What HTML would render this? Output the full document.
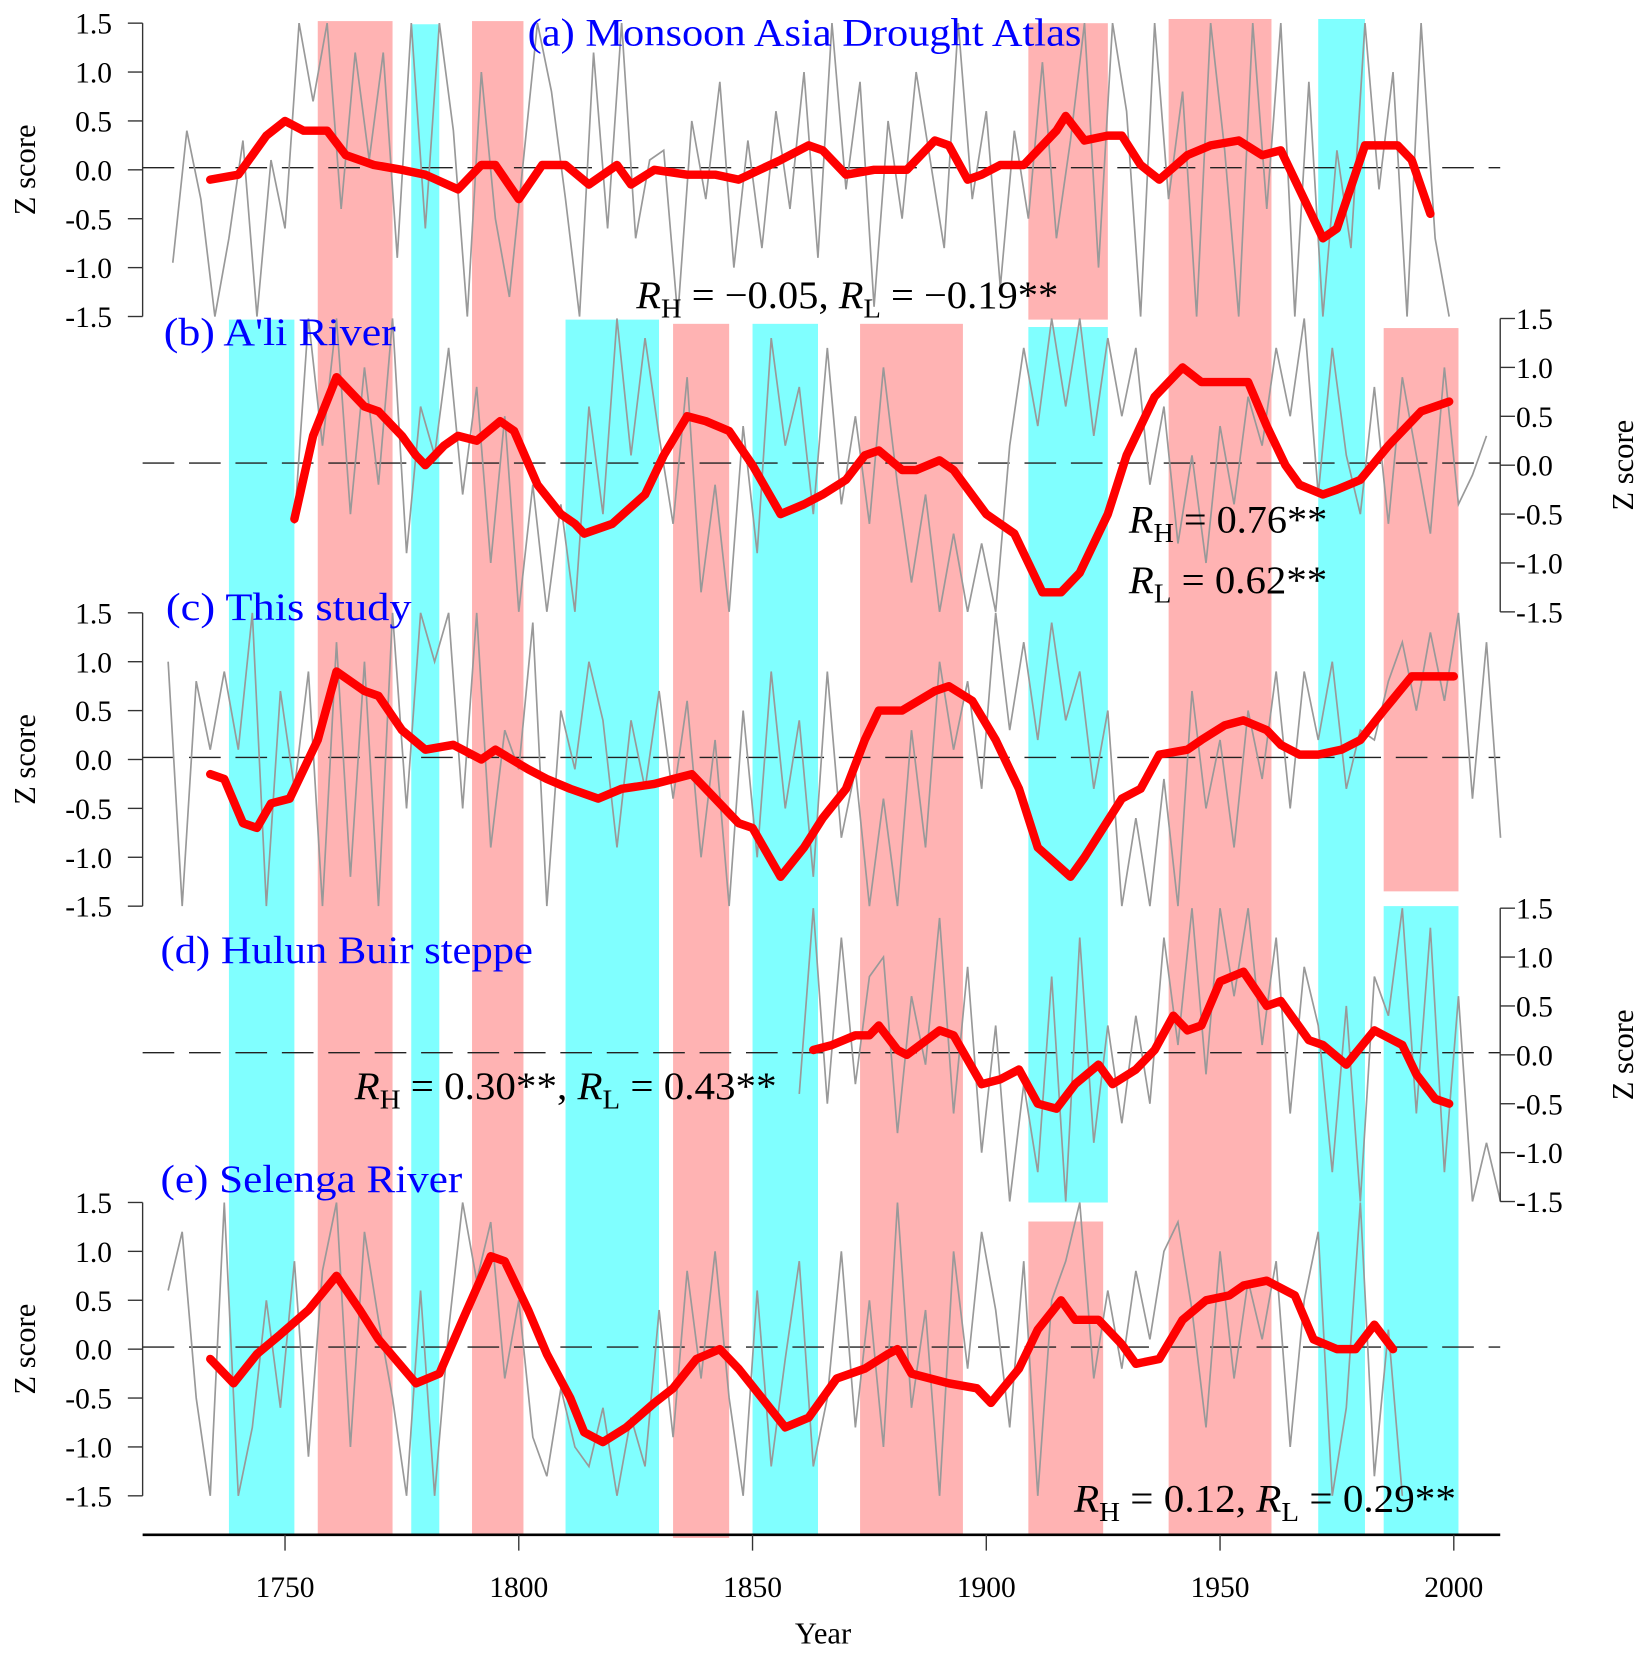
<!DOCTYPE html>
<html><head><meta charset="utf-8"><style>
html,body{margin:0;padding:0;background:#fff;}
svg{display:block;}
text{font-family:"Liberation Serif",serif;}
</style></head><body>
<svg id="chart" width="1646" height="1654" viewBox="0 0 1560 1568" xmlns="http://www.w3.org/2000/svg" font-family="Liberation Serif, serif">
<g id="bands"></g>
<g id="panels"></g>
<g id="texts"></g>
</svg>
<script>
// ---- data ----
const xTickYears = [1750, 1800, 1850, 1900, 1950, 2000];
const yTickLabels = ["1.5","1.0","0.5","0.0","-0.5","-1.0","-1.5"];
const yTickValues = [1.5,1.0,0.5,0.0,-0.5,-1.0,-1.5];
const pinkBandStart = [1757, 1790, 1833, 1873, 1909, 1939, 1985, 1909];
const pinkBandEnd   = [1773, 1801, 1845, 1895, 1926, 1961, 2001, 1925];
const cyanBandStart = [1738, 1777, 1810, 1850, 1909, 1971, 1985];
const cyanBandEnd   = [1752, 1783, 1830, 1864, 1926, 1981, 2001];

const redAYears = [1734,1740,1746,1750,1754,1759,1763,1769,1775,1780,1787,1792,1795,1800,1805,1810,1815,1821,1824,1829,1836,1842,1847,1856,1862,1865,1870,1876,1883,1889,1892,1896,1899,1903,1908,1915,1917,1921,1926,1929,1933,1937,1943,1948,1954,1959,1963,1969,1972,1975,1981,1984,1988,1991,1995];
const redAVals  = [-0.1,-0.05,0.35,0.5,0.4,0.4,0.15,0.05,0,-0.05,-0.2,0.05,0.05,-0.3,0.05,0.05,-0.15,0.05,-0.15,0,-0.05,-0.05,-0.1,0.1,0.25,0.2,-0.05,0,0,0.3,0.25,-0.1,-0.05,0.05,0.05,0.4,0.55,0.3,0.35,0.35,0.05,-0.1,0.15,0.25,0.3,0.15,0.2,-0.4,-0.7,-0.6,0.25,0.25,0.25,0.1,-0.45];
const redBYears = [1752,1756,1761,1767,1770,1775,1778,1780,1784,1787,1791,1796,1799,1804,1809,1812,1814,1820,1827,1831,1836,1840,1845,1850,1856,1861,1865,1870,1874,1877,1882,1885,1890,1893,1900,1906,1912,1916,1920,1926,1930,1936,1942,1946,1951,1956,1960,1964,1967,1972,1975,1980,1986,1993,1999];
const redBVals  = [-0.55,0.3,0.9,0.6,0.55,0.3,0.1,0,0.2,0.3,0.25,0.45,0.35,-0.2,-0.5,-0.6,-0.7,-0.6,-0.3,0.1,0.5,0.45,0.35,0,-0.5,-0.4,-0.3,-0.15,0.1,0.15,-0.05,-0.05,0.05,-0.05,-0.5,-0.7,-1.3,-1.3,-1.1,-0.5,0.1,0.7,1.0,0.85,0.85,0.85,0.4,0,-0.2,-0.3,-0.25,-0.15,0.2,0.55,0.65];
const redCYears = [1734,1737,1741,1744,1747,1751,1757,1761,1767,1770,1775,1780,1786,1792,1795,1802,1806,1811,1817,1822,1829,1833,1837,1841,1847,1850,1856,1861,1865,1870,1874,1877,1882,1889,1892,1897,1902,1907,1911,1918,1921,1925,1929,1933,1937,1943,1946,1951,1955,1960,1963,1967,1971,1976,1980,1985,1991,2000];
const redCVals  = [-0.15,-0.2,-0.65,-0.7,-0.45,-0.4,0.2,0.9,0.7,0.65,0.3,0.1,0.15,0,0.1,-0.1,-0.2,-0.3,-0.4,-0.3,-0.25,-0.2,-0.15,-0.35,-0.65,-0.7,-1.2,-0.9,-0.6,-0.3,0.2,0.5,0.5,0.7,0.75,0.6,0.2,-0.3,-0.9,-1.2,-1.0,-0.7,-0.4,-0.3,0.05,0.1,0.2,0.35,0.4,0.3,0.15,0.05,0.05,0.1,0.2,0.5,0.85,0.85];
const redDYears = [1863,1867,1872,1875,1877,1881,1883,1890,1893,1899,1903,1907,1911,1915,1919,1924,1927,1932,1936,1940,1943,1946,1950,1955,1960,1963,1969,1972,1977,1983,1987,1989,1992,1996,1999];
const redDVals  = [0.05,0.1,0.2,0.2,0.3,0.05,0,0.25,0.2,-0.3,-0.25,-0.15,-0.5,-0.55,-0.3,-0.1,-0.3,-0.15,0.05,0.4,0.25,0.3,0.75,0.85,0.5,0.55,0.15,0.1,-0.1,0.25,0.15,0.1,-0.2,-0.45,-0.5];
const redEYears = [1734,1739,1744,1749,1755,1761,1766,1770,1778,1783,1788,1794,1797,1802,1806,1811,1814,1818,1823,1829,1833,1838,1843,1847,1852,1857,1862,1868,1874,1879,1881,1884,1892,1898,1901,1907,1911,1916,1919,1924,1929,1932,1937,1942,1947,1952,1955,1960,1966,1970,1975,1979,1983,1987];
const redEVals  = [-0.1,-0.35,-0.05,0.15,0.4,0.75,0.4,0.1,-0.35,-0.25,0.3,0.95,0.9,0.4,-0.05,-0.5,-0.85,-0.95,-0.8,-0.55,-0.4,-0.1,0,-0.2,-0.5,-0.8,-0.7,-0.3,-0.2,-0.05,0,-0.25,-0.35,-0.4,-0.55,-0.2,0.2,0.5,0.3,0.3,0.05,-0.15,-0.1,0.3,0.5,0.55,0.65,0.7,0.55,0.1,0,0,0.25,0];

const grayAStart = 1726;
const grayAVals = [-0.95,0.4,-0.3,-1.5,-0.7,0.3,-1.5,0.1,-0.6,1.5,0.7,1.5,-0.4,1.2,0.1,1.2,-0.9,1.5,-0.6,1.5,0.4,-1.5,1.0,-0.5,-1.3,0.1,1.5,0.8,-0.3,-1.5,1.2,-0.6,1.5,-0.7,0.1,0.2,-1.5,0.5,-0.3,0.9,-1.0,0.3,-0.8,0.6,-0.4,1.0,-0.9,1.5,-0.2,0.9,-1.4,0.5,-0.5,1.0,0.1,-0.8,1.5,-0.3,0.6,-1.2,0.4,-0.5,1.1,-0.7,0.3,1.5,-1.0,1.5,0.6,-1.5,1.5,-0.3,0.8,-1.5,1.5,0.2,-1.5,1.5,-0.4,1.5,-1.5,0.9,-1.5,0.2,-0.8,1.5,-0.2,1.0,-1.5,1.5,-0.7,-1.5];
const grayBStart = 1752;
const grayBVals = [-0.6,1.5,0.2,1.5,-0.5,1.0,-0.2,1.5,-0.9,0.6,0.1,1.2,-0.3,0.8,-1.0,0.5,-1.5,-0.2,-1.5,-0.4,-1.5,0.6,-0.5,1.5,0.1,1.3,0.3,-0.6,0.9,-1.3,-0.2,-1.5,0.4,-0.9,1.3,0.2,0.8,-0.5,1.2,-0.4,0.5,-0.6,1.0,-0.2,-1.2,-0.3,-1.5,-0.7,-1.5,-0.8,-1.5,0.2,1.2,0.4,1.5,0.6,1.5,0.3,1.3,0.5,1.2,-0.2,0.6,-0.8,0.1,-1.0,0.4,-0.4,0.7,0.2,1.2,0.5,1.5,-0.3,1.2,0.1,-0.5,0.8,-0.6,0.9,0.1,-0.7,1.0,-0.4,-0.1,0.3];
const grayCStart = 1725;
const grayCVals = [1.0,-1.5,0.8,0.1,0.9,0.1,1.5,-1.5,0.7,-0.3,0.9,-1.5,1.2,-1.2,1.0,-1.5,1.5,-0.5,1.5,1.0,1.5,-0.5,1.5,-0.9,0.3,-0.1,1.4,-1.5,0.5,-0.1,1.0,0.4,-0.9,0.4,-0.3,0.7,-0.4,0.6,-1.0,0.2,-1.5,0.5,-1.0,0.9,-0.5,0.4,-1.2,0.9,-0.8,-0.1,-1.5,-0.4,-1.5,0.3,-0.9,1.0,0.1,0.8,-0.3,1.5,0.3,1.2,0.2,1.4,0.4,0.9,-0.3,0.5,-1.5,-0.6,-1.5,-0.2,-1.5,0.7,-0.5,0.2,-0.9,0.5,-0.2,0.9,-0.5,0.9,0.2,1.0,-0.3,0.3,0.2,0.8,1.2,0.5,1.3,0.6,1.5,-0.4,1.2,-0.8];
const grayDStart = 1860;
const grayDVals = [-0.4,1.5,-0.5,1.2,-0.3,0.8,1.0,-0.8,0.6,-0.1,1.4,-0.6,0.9,-1.0,0.3,-1.5,-0.3,-1.2,0.8,-1.5,1.2,-0.9,0.3,-0.7,0.4,-0.5,1.2,0.1,1.5,-0.2,1.5,0.6,1.5,0.1,1.2,-0.6,0.9,0.3,-1.2,0.5,-1.5,0.8,0.4,1.5,-0.6,1.3,-1.2,0.6,-1.5,-0.9,-1.5];
const grayEStart = 1725;
const grayEVals = [0.6,1.2,-0.5,-1.5,1.5,-1.5,-0.8,0.5,-0.6,0.9,-1.1,0.8,1.5,-1.0,1.2,0.3,-0.5,-1.5,0.6,-1.5,0.2,1.5,0.7,1.3,-0.3,0.5,-0.9,-1.3,-0.4,-1.0,-1.2,-0.6,-1.5,-0.7,-1.2,0.4,-0.9,0.8,-0.3,1.0,-0.5,-1.5,0.6,-1.2,-0.1,0.9,-1.2,-0.5,1.0,-0.8,0.5,-1.0,1.5,-0.6,0.4,-1.5,1.0,-0.2,1.2,0.4,-0.8,0.9,-1.5,0.5,0.9,1.5,-0.3,0.6,-0.2,0.8,0.1,1.0,1.3,0.4,-0.8,1.0,-0.3,0.7,0.1,0.9,-1.0,0.5,1.2,-1.5,-0.6,1.5,-1.3,0.2,-1.5];

// ---- helpers ----
const NS = "http://www.w3.org/2000/svg";
function mk(tag, attrs, parent){ const e=document.createElementNS(NS,tag); for(const k in attrs) e.setAttribute(k,attrs[k]); parent.appendChild(e); return e; }
function xScale(yr){ return 270 + (yr-1750)*4.432; }
const panels = [
  {id:"a", zero:161, side:"left"},
  {id:"b", zero:441, side:"right"},
  {id:"c", zero:720, side:"left"},
  {id:"d", zero:1000, side:"right"},
  {id:"e", zero:1279, side:"left"}
];
const unit = 92.7;
function yScale(p, v){ return p.zero - v*unit; }
const SERIF = "Liberation Serif, serif";

const bandsG = document.getElementById('bands');
const pinkTop = [20, 20, 307, 307, 22, 18, 311, 1158];
const pinkBot = [1455,1455,1458,1455,303,1455,845,1455];
const cyanTop = [303, 23, 303, 307, 310, 18, 859];
const cyanBot = [1455,1455,1455,1455,1140,1455,1455];
for(let i=0;i<pinkBandStart.length;i++){
  const r = mk('rect',{x:xScale(pinkBandStart[i]),y:pinkTop[i],width:xScale(pinkBandEnd[i])-xScale(pinkBandStart[i]),height:pinkBot[i]-pinkTop[i],fill:'#ffb3b3'},bandsG);
  
  
}
for(let i=0;i<cyanBandStart.length;i++){
  const r = mk('rect',{x:xScale(cyanBandStart[i]),y:cyanTop[i],width:xScale(cyanBandEnd[i])-xScale(cyanBandStart[i]),height:cyanBot[i]-cyanTop[i],fill:'#80ffff'},bandsG);
  
  
}

const panelsG = document.getElementById('panels');
const grays = {a:[grayAStart,grayAVals],b:[grayBStart,grayBVals],c:[grayCStart,grayCVals],d:[grayDStart,grayDVals],e:[grayEStart,grayEVals]};
const reds = {a:[redAYears,redAVals],b:[redBYears,redBVals],c:[redCYears,redCVals],d:[redDYears,redDVals],e:[redEYears,redEVals]};
panels.forEach(p=>{
  const g = mk('g',{},panelsG);
  
  
  const z = mk('line',{x1:135,x2:1422,y1:p.zero-2,y2:p.zero-2,stroke:'#222','stroke-width':1.3,'stroke-dasharray':'30 14'},g);
  
  
  const [gs, gv] = grays[p.id];
  const pts = gv.map((v,i)=>xScale(gs+i*3).toFixed(1)+','+yScale(p,Math.max(-1.5,Math.min(1.5,v))).toFixed(1)).join(' ');
  const gl = mk('polyline',{points:pts,fill:'none',stroke:'#999','stroke-width':1.6},g);
  
  
  const [ry, rv] = reds[p.id];
  const rpts = rv.map((v,i)=>xScale(ry[i]).toFixed(1)+','+yScale(p,v).toFixed(1)).join(' ');
  const rl = mk('polyline',{points:rpts,fill:'none',stroke:'#ff0000','stroke-width':8,'stroke-linejoin':'round','stroke-linecap':'round'},g);
  
  
  const ax = p.side==='left'?135:1422;
  const axis = mk('g',{},g);
  
  
  mk('line',{x1:ax,x2:ax,y1:yScale(p,1.5),y2:yScale(p,-1.5),stroke:'#333','stroke-width':1.3},axis);
  yTickValues.forEach((v,i)=>{
    const y=yScale(p,v);
    const dir = p.side==='left'?-1:1;
    mk('line',{x1:ax,x2:ax+dir*14,y1:y,y2:y,stroke:'#333','stroke-width':1.3},axis);
    const t = mk('text',{x:p.side==='left'?106:1437,y:y+10,'font-size':28,'font-family':SERIF,'text-anchor':p.side==='left'?'end':'start',fill:'#000'},axis);
    t.textContent = yTickLabels[i];
    
    
  });
  const tx = p.side==='left'?33:1548;
  const yt = mk('text',{x:tx,y:p.zero,'font-size':29,'font-family':SERIF,'text-anchor':'middle',transform:'rotate(-90 '+tx+' '+p.zero+')',fill:'#000'},axis);
  yt.textContent='Z score';
  
  
});

const xg = mk('g',{},panelsG);


mk('line',{x1:135,x2:1422,y1:1455,y2:1455,stroke:'#000','stroke-width':2.5},xg);
xTickYears.forEach(yr=>{
  const x=xScale(yr);
  mk('line',{x1:x,x2:x,y1:1455,y2:1470,stroke:'#333','stroke-width':1.3},xg);
  const t=mk('text',{x:x,y:1514,'font-size':28,'font-family':SERIF,'text-anchor':'middle'},xg);
  t.textContent=String(yr);
  
  
});
const xt=mk('text',{x:780,y:1558,'font-size':29,'font-family':SERIF,'text-anchor':'middle'},xg);
xt.textContent='Year';


</script>
<svg style="position:absolute;left:0;top:0" width="1646" height="1654" viewBox="0 0 1560 1568">
<g font-family="Liberation Serif, serif" font-size="37" fill="#0000ff">
<text x="500" y="43" textLength="525" lengthAdjust="spacingAndGlyphs">(a)  Monsoon Asia Drought Atlas</text>
<text x="155" y="327" textLength="220" lengthAdjust="spacingAndGlyphs">(b)  A'li River</text>
<text x="157" y="588" textLength="233" lengthAdjust="spacingAndGlyphs">(c)  This  study</text>
<text x="152" y="913" textLength="353" lengthAdjust="spacingAndGlyphs">(d)  Hulun Buir steppe</text>
<text x="152" y="1130" textLength="286" lengthAdjust="spacingAndGlyphs">(e)  Selenga River</text>
</g>
<g font-family="Liberation Serif, serif" font-size="37" fill="#000">
<text x="603" y="292" textLength="400" lengthAdjust="spacingAndGlyphs"><tspan font-style="italic">R</tspan><tspan font-size="26" dy="9">H</tspan><tspan dy="-9"> = −0.05, </tspan><tspan font-style="italic">R</tspan><tspan font-size="26" dy="9">L</tspan><tspan dy="-9"> = −0.19**</tspan></text>
<text x="1070" y="505" textLength="188" lengthAdjust="spacingAndGlyphs"><tspan font-style="italic">R</tspan><tspan font-size="26" dy="9">H</tspan><tspan dy="-9"> = 0.76**</tspan></text>
<text x="1070" y="562" textLength="188" lengthAdjust="spacingAndGlyphs"><tspan font-style="italic">R</tspan><tspan font-size="26" dy="9">L</tspan><tspan dy="-9"> = 0.62**</tspan></text>
<text x="336" y="1042" textLength="400" lengthAdjust="spacingAndGlyphs"><tspan font-style="italic">R</tspan><tspan font-size="26" dy="9">H</tspan><tspan dy="-9"> = 0.30**, </tspan><tspan font-style="italic">R</tspan><tspan font-size="26" dy="9">L</tspan><tspan dy="-9"> = 0.43**</tspan></text>
<text x="1018" y="1433" textLength="362" lengthAdjust="spacingAndGlyphs"><tspan font-style="italic">R</tspan><tspan font-size="26" dy="9">H</tspan><tspan dy="-9"> = 0.12, </tspan><tspan font-style="italic">R</tspan><tspan font-size="26" dy="9">L</tspan><tspan dy="-9"> = 0.29**</tspan></text>
</g>
</svg>
</body></html>
